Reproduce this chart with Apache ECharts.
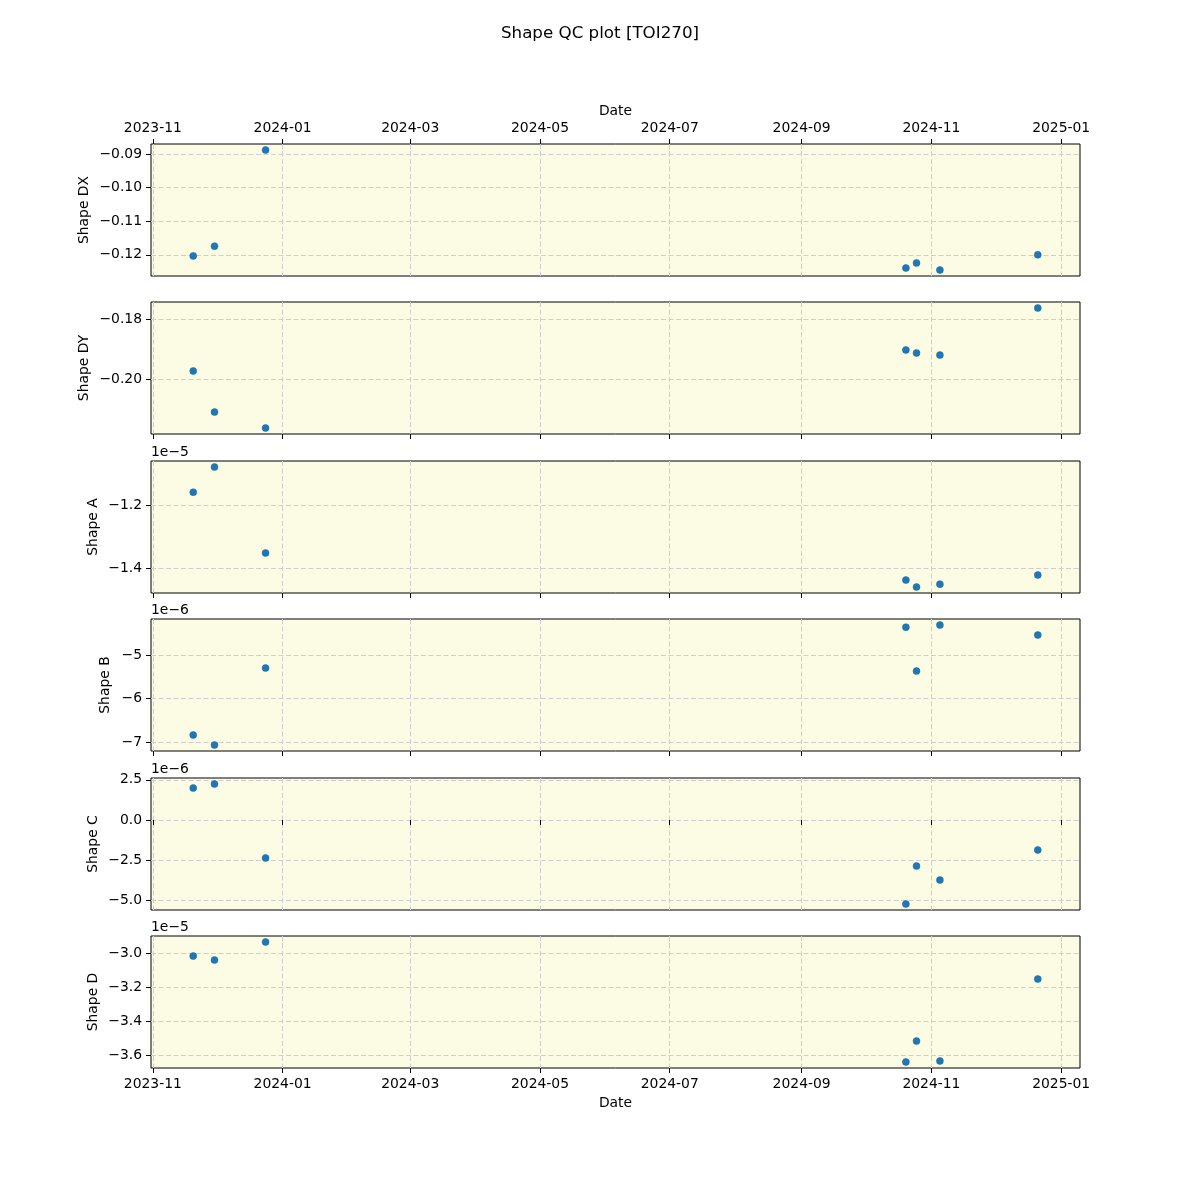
<!DOCTYPE html>
<html>
<head>
<meta charset="utf-8">
<script src="https://cdn.jsdelivr.net/npm/echarts@6/dist/echarts.min.js"></script>
<style>html,body{margin:0;padding:0;background:#fff}#c{width:1200px;height:1200px}</style>
</head>
<body>
<div id="c"></div>
<script>
// ---- data ----
const dates = ['2023-11-20', '2023-11-30', '2023-12-24', '2024-10-20', '2024-10-25', '2024-11-05', '2024-12-21'];
const shapeDX = [-0.1203, -0.1174, -0.0888, -0.1239, -0.1224, -0.1245, -0.1200];
const shapeDY = [-0.1973, -0.2110, -0.2163, -0.1903, -0.1913, -0.1920, -0.1763];
const shapeA_e5 = [-1.159, -1.079, -1.352, -1.438, -1.460, -1.451, -1.422];   // x1e-5
const shapeB_e6 = [-6.84, -7.07, -5.30, -4.36, -5.37, -4.31, -4.54];        // x1e-6
const shapeC_e6 = [1.99, 2.24, -2.36, -5.22, -2.86, -3.73, -1.86];          // x1e-6
const shapeD_e5 = [-3.018, -3.041, -2.935, -3.641, -3.518, -3.635, -3.153]; // x1e-5
const panelNames = ['Shape DX', 'Shape DY', 'Shape A', 'Shape B', 'Shape C', 'Shape D'];
const offsetTexts = ['', '', '1e\u22125', '1e\u22126', '1e\u22126', '1e\u22125'];
const yTicks = [
  [-0.12, -0.11, -0.10, -0.09],
  [-0.20, -0.18],
  [-1.4, -1.2],
  [-7, -6, -5],
  [-5.0, -2.5, 0.0, 2.5],
  [-3.6, -3.4, -3.2, -3.0]
];
const yDecimals = [2, 2, 1, 0, 1, 1];
const xTickLabels = ['2023-11', '2024-01', '2024-03', '2024-05', '2024-07', '2024-09', '2024-11', '2025-01'];
const titleText = 'Shape QC plot [TOI270]';

// ---- build ----
const seriesValues = [shapeDX, shapeDY, shapeA_e5, shapeB_e6, shapeC_e6, shapeD_e5];
const FONT = 'DejaVu Sans';
const FS = 13.9;
const tops = [144, 302, 461, 619, 778, 936];
const nameGaps = [60, 60, 51, 39, 51, 51];
const H = 132, LEFT = 151, RIGHT = 120;

function padExtent(arr) {
  const mn = Math.min.apply(null, arr), mx = Math.max.apply(null, arr);
  const m = (mx - mn) * 0.05;
  return [mn - m, mx + m];
}
const ts = dates.map(d => new Date(d + 'T00:00:00Z').getTime());
const xExt = padExtent(ts);
const xTickVals = xTickLabels.map(s => new Date(s + '-01T00:00:00Z').getTime());
const pad2 = n => (n < 10 ? '0' : '') + n;
const fmtDate = v => { const d = new Date(v); return d.getUTCFullYear() + '-' + pad2(d.getUTCMonth() + 1); };
const fmtNum = (v, dec) => v.toFixed(dec).replace('-', '\u2212');

const grids = [], xAxes = [], yAxes = [], series = [], graphics = [];
const gridLine = { show: true, lineStyle: { color: '#cfcfcf', type: [5, 2.5], width: 1 } };

for (let i = 0; i < 6; i++) {
  grids.push({ left: LEFT, right: RIGHT, top: tops[i], height: H, show: true,
    backgroundColor: '#fcfbe3', borderColor: '#000', borderWidth: 1, containLabel: false });
  const isTop = i === 0, isBottom = i === 5;
  xAxes.push({
    type: 'value', gridIndex: i, min: xExt[0], max: xExt[1], scale: true,
    position: isTop ? 'top' : 'bottom',
    name: (isTop || isBottom) ? 'Date' : '', nameLocation: 'middle', nameGap: isTop ? 26 : 28,
    nameMoveOverlap: false,
    nameTextStyle: { fontFamily: FONT, fontSize: FS, color: '#000' },
    axisLine: { show: false },
    axisTick: { show: true, length: 5, inside: false, customValues: xTickVals, lineStyle: { color: '#000' } },
    axisLabel: { show: isTop || isBottom, customValues: xTickVals, formatter: fmtDate, margin: 9,
      fontFamily: FONT, fontSize: FS, color: '#000', hideOverlap: false },
    splitLine: gridLine
  });
  const ye = padExtent(seriesValues[i]);
  const dec = yDecimals[i];
  yAxes.push({
    type: 'value', gridIndex: i, min: ye[0], max: ye[1], scale: true,
    name: panelNames[i], nameLocation: 'middle', nameGap: nameGaps[i],
    nameMoveOverlap: false,
    nameTextStyle: { fontFamily: FONT, fontSize: FS, color: '#000' },
    axisLine: { show: false },
    axisTick: { show: true, length: 5, customValues: yTicks[i], lineStyle: { color: '#000' } },
    axisLabel: { customValues: yTicks[i], formatter: v => fmtNum(v, dec), margin: 9,
      fontFamily: FONT, fontSize: FS, color: '#000' },
    splitLine: gridLine
  });
  series.push({
    type: 'scatter', xAxisIndex: i, yAxisIndex: i, symbol: 'circle', symbolSize: 7,
    itemStyle: { color: '#1f77b4', borderColor: '#1a6aa3', borderWidth: 0.5, opacity: 1 },
    data: ts.map((t, k) => [t, seriesValues[i][k]])
  });
  if (offsetTexts[i]) {
    graphics.push({ type: 'text', left: LEFT, top: tops[i] - 16,
      style: { text: offsetTexts[i], fontFamily: FONT, fontSize: FS, fill: '#000' } });
  }
}

const chart = echarts.init(document.getElementById('c'), null, { renderer: 'canvas' });
chart.setOption({
  animation: false,
  backgroundColor: '#fff',
  title: { text: titleText, left: 'center', top: 20,
    textStyle: { fontFamily: FONT, fontSize: 16.7, fontWeight: 'normal', color: '#000' } },
  grid: grids, xAxis: xAxes, yAxis: yAxes, series: series, graphic: graphics
});
</script>
</body>
</html>
